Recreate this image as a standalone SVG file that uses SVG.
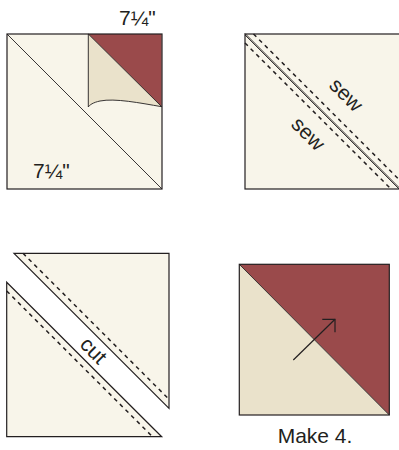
<svg xmlns="http://www.w3.org/2000/svg" width="399" height="450" viewBox="0 0 399 450">
<style>
.cream{fill:#F8F5EA}
.tan{fill:#EAE2CB}
.red{fill:#9A4A4B}
.edge{stroke:#231F20;stroke-width:1.2;fill:none}
.thin{stroke:#231F20;stroke-width:0.9;fill:none}
.dash{stroke:#231F20;stroke-width:1.5;stroke-dasharray:4 4;fill:none}
.lbl{font-family:"Liberation Sans",Arial,sans-serif;font-size:21px;fill:#231F20}
</style>
<rect width="399" height="450" fill="#FFFFFF"/>
<g id="square-cut-size">
<rect x="7" y="34" width="155" height="155" class="cream"/>
<polygon points="88.3,34 161.7,34 161.7,106.7" class="red"/>
<path d="M88.3,34 L161.7,106.7 C140,103 115,98 100,101 C93,102.5 89.5,105 88.3,107 Z" class="tan"/>
<path d="M88.3,34 L161.7,106.7 C140,103 115,98 100,101 C93,102.5 89.5,105 88.3,107 Z" class="thin"/>
<line x1="7" y1="34" x2="162" y2="189" class="thin"/>
<rect x="7" y="34" width="155" height="155" class="edge"/>
<text x="119" y="25" class="lbl">7¼"</text>
<text x="33" y="178" class="lbl">7¼"</text>
</g>
<g id="square-sew">
<rect x="245" y="34" width="156" height="155" class="cream"/>
<rect x="245" y="34" width="156" height="155" class="edge"/>
<g id="connectors-sew">
<line x1="245" y1="33.5" x2="400.5" y2="189" class="thin"/>
<line x1="245" y1="35" x2="399" y2="189" class="thin"/>
<line x1="253.5" y1="34" x2="399" y2="179.5" class="dash"/>
<line x1="245" y1="43" x2="391" y2="189" class="dash"/>
</g>
<text transform="translate(345.5,95.5) rotate(45)" x="0" y="6" text-anchor="middle" class="lbl">sew</text>
<text transform="translate(307.5,134.5) rotate(45)" x="0" y="6" text-anchor="middle" class="lbl">sew</text>
</g>
<g id="square-cut">
<polygon points="14,253.3 169,253.3 169,408.3" class="cream"/>
<polygon points="14,253.3 169,253.3 169,408.3" class="edge"/>
<polygon points="6.7,282.3 6.7,436.7 161.7,436.7" class="cream"/>
<polygon points="6.7,282.3 6.7,436.7 161.7,436.7" class="edge"/>
<line x1="23" y1="253.3" x2="169" y2="399.3" class="dash"/>
<line x1="6.7" y1="291" x2="152.5" y2="436.7" class="dash"/>
<text transform="translate(93.5,350.5) rotate(45)" x="0" y="7" text-anchor="middle" class="lbl">cut</text>
</g>
<g id="square-result">
<polygon points="239.3,264.3 389.3,264.3 389.3,415" class="red"/>
<polygon points="239.3,264.3 239.3,415 389.3,415" class="tan"/>
<line x1="239.3" y1="264.3" x2="389.3" y2="415" class="thin"/>
<rect x="239.3" y="264.3" width="150" height="150.7" class="edge"/>
<g id="connectors-press">
<line x1="293.3" y1="360" x2="335" y2="319.3" class="edge"/>
<polyline points="322.3,319.3 335,319.3 335,332.3" class="edge"/>
</g>
<text x="315" y="442.5" text-anchor="middle" class="lbl">Make 4.</text>
</g>
</svg>
